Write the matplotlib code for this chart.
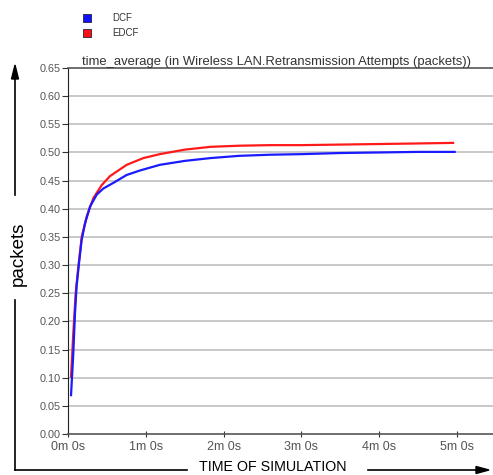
import matplotlib
matplotlib.use("Agg")
import matplotlib.pyplot as plt
from matplotlib.lines import Line2D

plt.rcParams['font.family'] = ['Liberation Sans', 'DejaVu Sans']

# time in minutes
dcf_t = [0.039, 0.068, 0.09, 0.11, 0.141, 0.176, 0.219, 0.283, 0.369, 0.454, 0.583, 0.754,
         0.925, 1.18, 1.5, 1.83, 2.2, 2.6, 3.0, 3.5, 4.0, 4.5, 4.97]
dcf_v = [0.069, 0.143, 0.215, 0.262, 0.303, 0.345, 0.374, 0.404, 0.425, 0.436, 0.446, 0.460,
         0.468, 0.478, 0.485, 0.490, 0.494, 0.496, 0.497, 0.499, 0.500, 0.501, 0.501]
edcf_t = [0.039, 0.068, 0.099, 0.133, 0.176, 0.24, 0.326, 0.433, 0.54, 0.754, 0.968, 1.18,
          1.5, 1.83, 2.2, 2.6, 3.0, 3.5, 4.0, 4.5, 4.95]
edcf_v = [0.102, 0.179, 0.250, 0.297, 0.350, 0.386, 0.419, 0.442, 0.458, 0.478, 0.490, 0.497,
          0.505, 0.510, 0.512, 0.513, 0.513, 0.514, 0.515, 0.516, 0.517]

y_ticks = [i * 0.05 for i in range(14)]
y_labels = ["%.2f" % v for v in y_ticks]
x_ticks = [0, 1, 2, 3, 4, 5]
x_labels = ["0m 0s", "1m 0s", "2m 0s", "3m 0s", "4m 0s", "5m 0s"]

W, H = 493, 475
fig = plt.figure(figsize=(W / 100, H / 100), dpi=100)

def fx(px):
    return px / W

def fy(py):
    return 1 - py / H

ax = fig.add_axes([fx(68), fy(434), fx(493) - fx(68), fy(68) - fy(434)])
ax.set_xlim(0, (493 - 68) / 77.8)
ax.set_ylim(0, 0.65)

for v in y_ticks[1:-1]:
    ax.axhline(v, color='#c4c4c4', lw=1.3, zorder=1)

ax.plot(edcf_t, edcf_v, color='#ff1a1a', lw=1.6, zorder=3)
ax.plot(dcf_t, dcf_v, color='#1a1aff', lw=1.6, zorder=4)

ax.set_yticks(y_ticks)
ax.set_yticklabels(y_labels)
ax.set_xticks(x_ticks)
ax.set_xticklabels(x_labels)
ax.tick_params(axis='y', direction='out', length=4, width=0.8, colors='#333333',
               labelsize=7.8, labelcolor='#555555', pad=1)
ax.tick_params(axis='x', direction='inout', length=4, width=0.8, colors='#333333',
               labelsize=9, labelcolor='#555555', pad=3)
for s in ['right']:
    ax.spines[s].set_visible(False)
ax.spines['top'].set_color('#555555')
ax.spines['top'].set_linewidth(1.2)
ax.spines['left'].set_color('#222222')
ax.spines['bottom'].set_color('#555555')
ax.spines['bottom'].set_linewidth(1.2)

# title
fig.text(fx(82), fy(62), "time_average (in Wireless LAN.Retransmission Attempts (packets))",
         fontsize=9.4, color='#333333', va='center', ha='left')

# legend
for (py, col, lab) in [(18, '#1010ff', 'DCF'), (33, '#ff1010', 'EDCF')]:
    fig.patches.append(plt.Rectangle((fx(83), fy(py + 4)), 8 / W, 8 / H, transform=fig.transFigure,
                                     facecolor=col, edgecolor='#222244', lw=0.6))
    fig.text(fx(112), fy(py), lab, fontsize=7, color='#333333', va='center', ha='left')

# outer axis arrows
fig.add_artist(Line2D([fx(15), fx(15)], [fy(470), fy(300)], color='black', lw=1.2, transform=fig.transFigure))
fig.add_artist(Line2D([fx(15), fx(15)], [fy(195), fy(78)], color='black', lw=1.2, transform=fig.transFigure))
fig.add_artist(Line2D([fx(15), fx(187)], [fy(470), fy(470)], color='black', lw=1.2, transform=fig.transFigure))
fig.add_artist(Line2D([fx(368), fx(478)], [fy(470), fy(470)], color='black', lw=1.2, transform=fig.transFigure))
fig.patches.append(plt.Polygon([(fx(15), fy(65)), (fx(11.5), fy(79)), (fx(18.5), fy(79))],
                               closed=True, transform=fig.transFigure, facecolor='black', edgecolor='black'))
fig.patches.append(plt.Polygon([(fx(489), fy(470)), (fx(476), fy(466.5)), (fx(476), fy(473.5))],
                               closed=True, transform=fig.transFigure, facecolor='black', edgecolor='black'))

fig.text(fx(18), fy(254), "packets", rotation=90, fontsize=13.5, color='black', va='center', ha='center')
fig.text(fx(273), fy(467), "TIME OF SIMULATION", fontsize=10.3, color='black', va='center', ha='center')

fig.savefig("out.png", dpi=100)
